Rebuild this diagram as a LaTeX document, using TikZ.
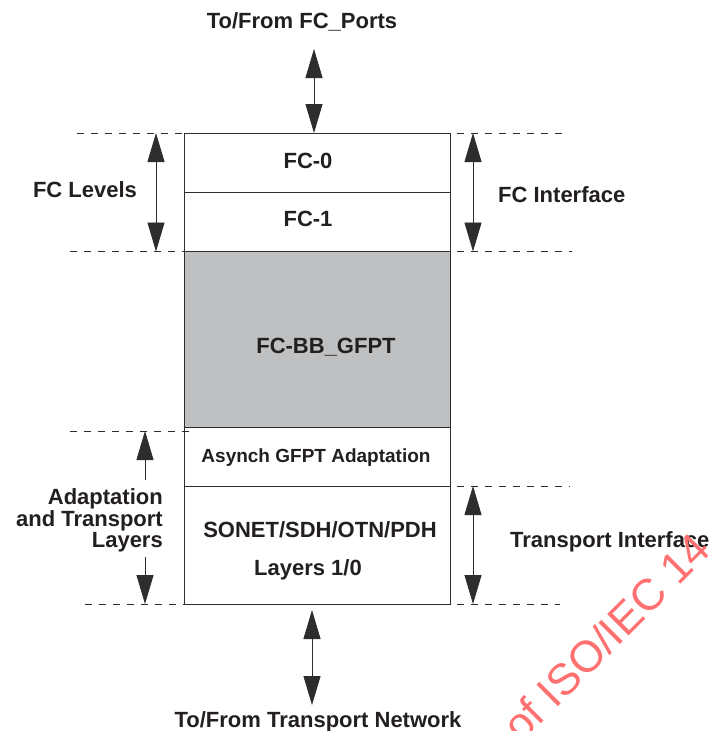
\documentclass[tikz,border=0pt]{standalone}
\usepackage{fontspec}
\setmainfont{Liberation Sans}
\usetikzlibrary{arrows.meta}
\definecolor{ink}{RGB}{35,31,32}
\definecolor{edge}{RGB}{45,45,45}
\definecolor{boxgray}{RGB}{191,192,194}
\definecolor{wm}{RGB}{255,112,112}
\begin{document}
\begin{tikzpicture}[x=1pt,y=-1pt,
  lbl/.style={font=\fontsize{22}{19}\selectfont\bfseries, text=ink, inner sep=0pt},
  smalllbl/.style={font=\fontsize{19}{19}\selectfont\bfseries, text=ink, inner sep=0pt},
  layer/.style={draw=edge, line width=0.9pt, minimum width=265.5pt, inner sep=0pt, outer sep=0pt},
  dashline/.style={draw=edge, line width=0.8pt, dash pattern=on 7pt off 7pt},
  bigarrow/.style={draw=edge, line width=0.9pt,
    {Triangle[length=29pt,width=17pt]}-{Triangle[length=29pt,width=17pt]}},
  halfarrow/.style={draw=edge, line width=0.9pt, -{Triangle[length=29pt,width=17pt]}}]
\useasboundingbox (0,0) rectangle (713,731);
\clip (0,0) rectangle (713,731);
\fill[white] (0,0) rectangle (713,731);

% layer boxes
\node[layer, minimum height=59pt] (fc0) at (317.25,162.5) {};
\node[layer, minimum height=59.5pt] (fc1) at (317.25,221.75) {};
\node[layer, minimum height=176pt, fill=boxgray] (bb) at (317.25,339.5) {};
\node[layer, minimum height=58.5pt] (asy) at (317.25,456.75) {};
\node[layer, minimum height=118pt] (son) at (317.25,545) {};

% texts in boxes
\node[lbl, anchor=base] (t0) at (308,168) {FC-0};
\node[lbl, anchor=base] (t1) at (308,226) {FC-1};
\node[lbl, anchor=base] (tbb) at (326,353) {FC-BB\_GFPT};
\node[smalllbl, anchor=base] (tasy) at (316,462) {Asynch GFPT Adaptation};
\node[lbl, anchor=base] (tson) at (320,537) {SONET/SDH/OTN/PDH};
\node[lbl, anchor=base] (tlay) at (308,575) {Layers 1/0};

% outside labels
\node[lbl, anchor=base] (ttop) at (302,28) {To/From FC\_Ports};
\node[lbl, anchor=base] (tbot) at (318,727) {To/From Transport Network};
\node[lbl, anchor=base] (tlev) at (85,197) {FC Levels};
\node[lbl, anchor=base west] (tfci) at (498,202) {FC Interface};
\node[lbl, anchor=base west] (ttri) at (510,547) {Transport Interface};
\node[lbl, anchor=base east, align=right] (tadp) at (163,547)
  {Adaptation\\and Transport\\Layers};

% dashed level lines
\coordinate (d1l) at (77,133);   \coordinate (d1r) at (565,133);
\coordinate (d2l) at (70,251.5); \coordinate (d2r) at (572,251.5);
\coordinate (d3l) at (70,431);   \coordinate (d3r) at (193,431);
\coordinate (d4r) at (570,486);
\coordinate (d5l) at (85,604);   \coordinate (d5r) at (560,604);
\draw[dashline] (d1l) -- (fc0.north west);
\draw[dashline] (fc0.north east) ++(7,0) -- (d1r);
\draw[dashline] (d2l) -- (fc1.south west);
\draw[dashline] (fc1.south east) ++(7,0) -- (d2r);
\draw[dashline] (d3l) -- (d3r);
\draw[dashline] (son.north east) ++(7,0) -- (d4r);
\draw[dashline] (d5l) -- (son.south west);
\draw[dashline] (son.south east) ++(7,0) -- (d5r);

% arrows
\coordinate (topend) at (314,49);
\coordinate (botend) at (312,705);
\draw[bigarrow] (topend) -- (topend |- fc0.north);
\draw[bigarrow] (botend |- son.south) ++(0,6) -- (botend);
\coordinate (lvx) at (156,0);
\draw[bigarrow] (lvx |- fc0.north) -- (lvx |- fc1.south);
\coordinate (rix) at (473,0);
\draw[bigarrow] (rix |- fc0.north) -- (rix |- fc1.south);
\draw[bigarrow] (rix |- son.north) -- (rix |- son.south);
\coordinate (aup) at (145,480);
\coordinate (adn) at (145,557);
\draw[halfarrow] (aup) -- (aup |- d3l);
\draw[halfarrow] (adn) -- (adn |- son.south);

% watermark
\node[font=\fontsize{44}{44}\selectfont, text=wm, rotate=45, anchor=base west, inner sep=0pt]
  (wmark) at (521,744) {of ISO/IEC 14};
\end{tikzpicture}
\end{document}
